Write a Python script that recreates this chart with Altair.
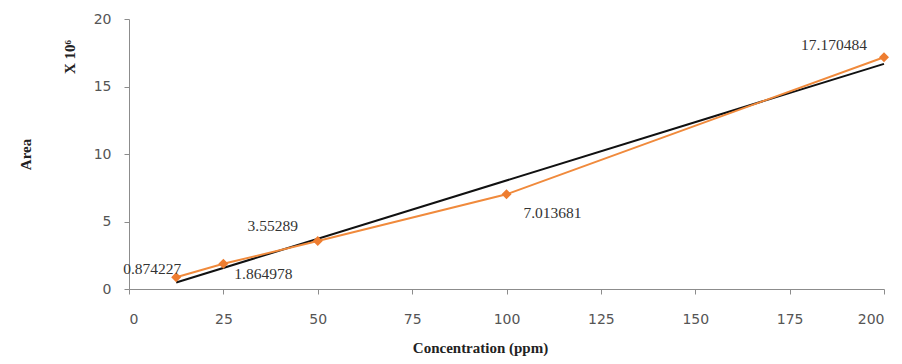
import altair as alt
import pandas as pd

conc = [12.5, 25, 50, 100, 200]
area = [0.874227, 1.864978, 3.55289, 7.013681, 17.170484]
labels = ["0.874227", "1.864978", "3.55289", "7.013681", "17.170484"]

df = pd.DataFrame({"conc": conc, "area": area, "label": labels, "idx": list(range(5))})

xs = alt.Scale(domain=[0, 200], nice=False)
ys = alt.Scale(domain=[0, 20], nice=False)

axis_common = dict(domainColor="#8c8c8c", tickColor="#8c8c8c", tickSize=5, grid=False,
                   labelFont="DejaVu Sans", labelFontSize=14, labelColor="#555555",
                   titleFont="Liberation Serif", titleFontWeight="bold", titleFontSize=15,
                   titleColor="#222222")

x_enc = alt.X("conc:Q", scale=xs,
              axis=alt.Axis(values=[0, 25, 50, 75, 100, 125, 150, 175, 200], title="Concentration (ppm)",
                            labelPadding=18, titleX=351, titleY=51, **axis_common))
y_enc = alt.Y("area:Q", scale=ys,
              axis=alt.Axis(values=[0, 5, 10, 15, 20], title="Area", labelPadding=13,
                            titleX=-104, titleBaseline="middle", **axis_common))

base = alt.Chart(df)

trend = base.transform_regression("conc", "area", extent=[12.5, 200]).mark_line(
    color="#111111", strokeWidth=2).encode(x=x_enc, y=y_enc)

line = base.mark_line(color="#F08A3C", strokeWidth=2).encode(x=x_enc, y=y_enc)
pts = base.mark_point(shape="diamond", filled=True, size=100, color="#EE7D30", opacity=1).encode(x="conc:Q", y="area:Q")

offsets = [(-24, -8), (40, 10), (-45, -15), (46, 19), (-50, -12)]
texts = []
for i, (dx, dy) in enumerate(offsets):
    texts.append(base.transform_filter(alt.datum.idx == i).mark_text(
        font="Liberation Serif", fontSize=15.5, color="#333333", dx=dx, dy=dy).encode(
        x="conc:Q", y="area:Q", text="label:N"))

mult = alt.Chart(pd.DataFrame({"t": ["X 10⁶"]})).mark_text(
    font="Liberation Serif", fontWeight="bold", fontSize=15, color="#222222", angle=270).encode(
    x=alt.value(-59), y=alt.value(38), text="t:N")

chart = alt.layer(trend, line, pts, *texts, mult).properties(
    width=755, height=270,
    autosize=alt.AutoSizeParams(type="none"),
    padding={"left": 121, "top": 11, "right": 10, "bottom": 67},
).configure_view(stroke=None)

chart.save("out.html", embed_options={"renderer": "svg", "actions": False})
